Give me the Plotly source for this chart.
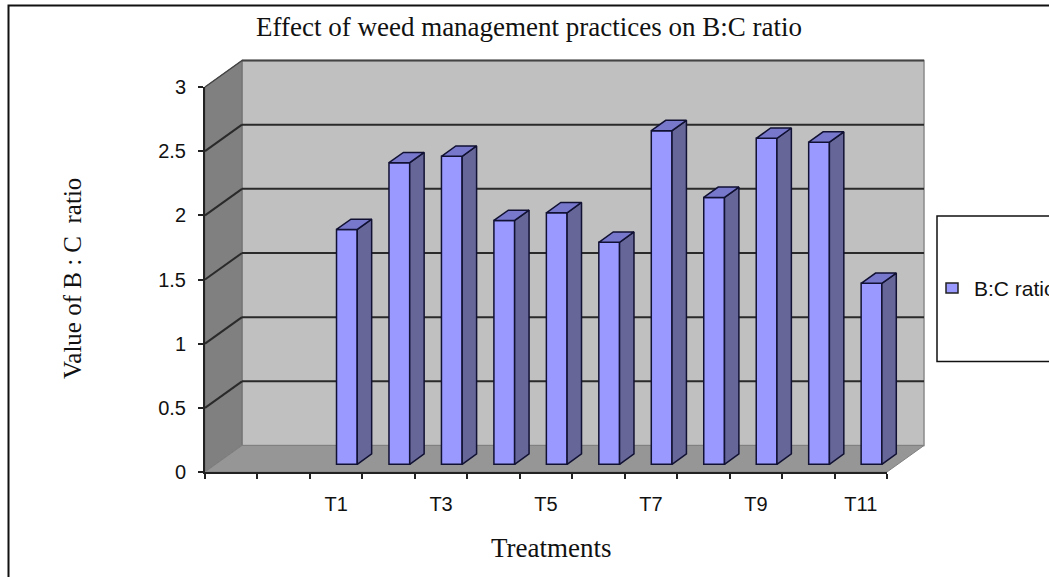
import plotly.graph_objects as go

W, H = 1049, 577
categories = ["T1", "T2", "T3", "T4", "T5", "T6", "T7", "T8", "T9", "T10", "T11"]
values = [1.83, 2.35, 2.40, 1.90, 1.96, 1.73, 2.60, 2.08, 2.54, 2.51, 1.41]
y_ticks = [0, 0.5, 1, 1.5, 2, 2.5, 3]
leading_blanks = 2

# layout (pixels)
FX0, FX1, FY0, FY3 = 205.0, 887.0, 472.0, 87.0
UX = (FX1 - FX0) / 13.0
UY = (FY0 - FY3) / 3.0
DX, DY = 37.0, 26.5           # full depth projection in px
F0, F1 = 0.29, 0.68           # bar depth span as a fraction of depth
BAR_W = 0.395

def wall(points, fill, line="#333333", lw=1.5):
    path = "M " + " L ".join(f"{a/W:.5f},{1-b/H:.5f}" for a, b in points) + " Z"
    return dict(type="path", xref="paper", yref="paper", path=path, fillcolor=fill,
                line=dict(color=line, width=lw), layer="below")

def segment(a, b, color="#2a2a2a", lw=2):
    return dict(type="line", xref="paper", yref="paper", x0=a[0]/W, y0=1-a[1]/H, x1=b[0]/W, y1=1-b[1]/H,
                line=dict(color=color, width=lw), layer="below")

shapes = [
    dict(type="rect", xref="paper", yref="paper", x0=8.5/W, x1=1060/W, y0=1-590/H, y1=1-5.5/H,
         line=dict(color="#111111", width=2), fillcolor="white", layer="below"),
    wall([(FX0+DX, FY3-DY), (FX1+DX, FY3-DY), (FX1+DX, FY0-DY), (FX0+DX, FY0-DY)], "#c0c0c0", "#8a8a8a", 1.5),
    wall([(FX0, FY3), (FX0+DX, FY3-DY), (FX0+DX, FY0-DY), (FX0, FY0)], "#808080", "#6e6e6e", 1),
    wall([(FX0, FY0), (FX0+DX, FY0-DY), (FX1+DX, FY0-DY), (FX1, FY0)], "#969696", "#808080", 1),
    segment((FX0+DX, FY3-DY), (FX1+DX, FY3-DY), "#444444", 2),
    segment((FX0, FY3), (FX0+DX, FY3-DY), "#444444", 1.5),
]
for t in y_ticks[1:-1]:
    y = FY0 - t * UY
    shapes.append(segment((FX0, y), (FX0+DX, y-DY)))
    shapes.append(segment((FX0+DX, y-DY), (FX1+DX, y-DY)))

# legend box and swatch
shapes.append(dict(type="rect", xref="paper", yref="paper", x0=937/W, x1=1060/W, y0=1-361.5/H, y1=1-216/H,
                   line=dict(color="#111111", width=1.5), fillcolor="white", layer="above"))
shapes.append(dict(type="rect", xref="paper", yref="paper", x0=946/W, x1=958/W, y0=1-293/H, y1=1-283/H,
                   line=dict(color="#222222", width=1.5), fillcolor="#9999ff", layer="above"))

xpos = [leading_blanks + i + 0.5 for i in range(len(categories))]
off_x = DX / UX
off_y = DY / UY

fig = go.Figure()
# front faces
fig.add_trace(go.Bar(
    x=[p + F0 * off_x for p in xpos], y=values, base=F0 * off_y, width=BAR_W,
    marker=dict(color="#9999ff", line=dict(color="#111133", width=1.5)),
    name="B:C ratio", showlegend=False, xaxis="x", yaxis="y", hoverinfo="skip"))

# side and top faces, projected from the same values
for p, v in zip(xpos, values):
    xl = p + F0 * off_x - BAR_W / 2
    xr = xl + BAR_W
    y0, y1 = F0 * off_y, F0 * off_y + v
    d_x, d_y = (F1 - F0) * off_x, (F1 - F0) * off_y
    fig.add_trace(go.Scatter(
        x=[xr, xr + d_x, xr + d_x, xr, xr], y=[y0, y0 + d_y, y1 + d_y, y1, y0],
        mode="lines", fill="toself", fillcolor="#666699", line=dict(color="#111133", width=1.5),
        showlegend=False, hoverinfo="skip", xaxis="x2", yaxis="y2"))
    fig.add_trace(go.Scatter(
        x=[xl, xr, xr + d_x, xl + d_x, xl], y=[y1, y1, y1 + d_y, y1 + d_y, y1],
        mode="lines", fill="toself", fillcolor="#7777cc", line=dict(color="#111133", width=1.5),
        showlegend=False, hoverinfo="skip", xaxis="x2", yaxis="y2"))

label_idx = list(range(0, len(categories), 2))
fig.update_layout(
    width=W, height=H, margin=dict(l=0, r=0, t=0, b=0, autoexpand=False),
    paper_bgcolor="white", plot_bgcolor="rgba(0,0,0,0)", shapes=shapes, showlegend=False,
    font=dict(family="Liberation Sans", color="#111111"),
    title=dict(text="Effect of weed management practices on B:C ratio", x=529/W, xanchor="center",
               y=1-27/H, yanchor="middle", font=dict(family="Liberation Serif", size=27, color="#111111")),
    xaxis=dict(domain=[FX0/W, FX1/W], range=[0, 13], anchor="y",
               tickmode="array", tickvals=[xpos[i] for i in label_idx], ticktext=[categories[i] for i in label_idx],
               ticks="", ticklen=0, ticklabelstandoff=13, tickfont=dict(size=20), showgrid=False, zeroline=False,
               showline=True, linecolor="#222222", linewidth=2,
               minor=dict(tickmode="array", tickvals=list(range(14)), ticks="outside", ticklen=5, tickwidth=2,
                          tickcolor="#222222", showgrid=False)),
    yaxis=dict(domain=[1-FY0/H, 1-FY3/H], range=[0, 3], anchor="x",
               tickmode="array", tickvals=y_ticks, ticktext=[f"{t:g}" for t in y_ticks],
               ticks="outside", ticklen=5, tickwidth=2, tickcolor="#222222", ticklabelstandoff=8,
               tickfont=dict(size=20), showgrid=False, zeroline=False, showline=True, linecolor="#222222", linewidth=2),
    xaxis2=dict(domain=[0, 1], range=[-FX0/UX, (W-FX0)/UX], visible=False, anchor="y2"),
    yaxis2=dict(domain=[0, 1], range=[(FY0-H)/UY, FY0/UY], visible=False, anchor="x2"),
    annotations=[
        dict(text="Value of B : C  ratio", xref="paper", yref="paper", x=73/W, y=1-279/H, textangle=-90,
             xanchor="center", yanchor="middle",
             showarrow=False, font=dict(family="Liberation Serif", size=25, color="#111111")),
        dict(text="Treatments", xref="paper", yref="paper", x=552/W, y=1-548/H, xanchor="center", yanchor="middle",
             showarrow=False, font=dict(family="Liberation Serif", size=27, color="#111111")),
        dict(text="B:C ratio", xref="paper", yref="paper", x=972/W, y=1-288/H, xanchor="left", yanchor="middle",
             showarrow=False, font=dict(family="Liberation Sans", size=21, color="#111111")),
    ],
)
fig.write_html("out.html", config=dict(displayModeBar=False),
               post_script="document.body.style.margin='0';document.body.style.overflow='hidden';")
